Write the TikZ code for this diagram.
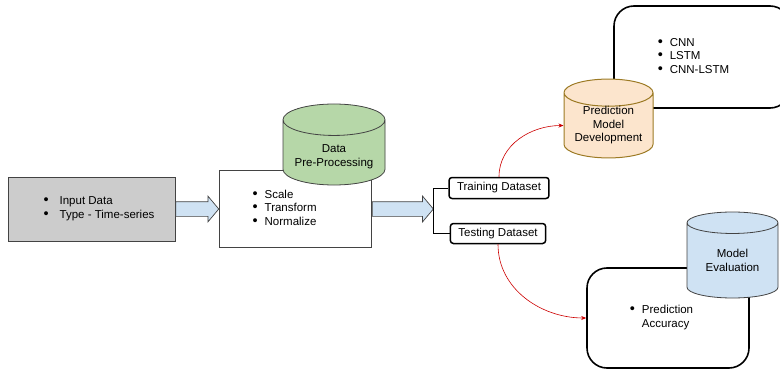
\documentclass[tikz,border=0pt]{standalone}
\usepackage{fontspec}
\setmainfont{Liberation Sans}
\usetikzlibrary{positioning,shapes.geometric,shapes.arrows,arrows.meta}
\definecolor{inpgray}{HTML}{CCCCCC}
\definecolor{edgegray}{HTML}{434343}
\definecolor{flowblue}{HTML}{CFE2F3}
\definecolor{prepgreen}{HTML}{B6D7A8}
\definecolor{preplight}{HTML}{C9E2BD}
\definecolor{devorange}{HTML}{FCE5CD}
\definecolor{devgold}{HTML}{9C7A24}
\definecolor{linkred}{HTML}{CC0000}

\newcommand{\bdot}{{\fontsize{14.5}{13.5}\selectfont\textbullet}}
\newcommand{\blist}[3][7pt]{\begin{tabular}{@{}c@{\hspace{#1}}l@{\hspace{#2}}}#3\end{tabular}}

\begin{document}
\begin{tikzpicture}[x=1pt,y=-1pt,font=\fontsize{11.5}{13.5}\selectfont,
  flatbox/.style={draw=edgegray,line width=0.8pt,inner sep=0pt},
  roundbox/.style={draw=black,line width=1.6pt,rounded corners=20pt,fill=white,inner sep=0pt},
  setbox/.style={draw=black,line width=1.5pt,rounded corners=3pt,fill=white,minimum height=21pt,inner xsep=8pt,inner ysep=0pt},
  store/.style={cylinder,shape border rotate=90,aspect=0.4,draw=edgegray,line width=0.8pt,align=center,inner sep=0pt,anchor=shape center},
  flowarrow/.style={single arrow,draw=edgegray,fill=flowblue,line width=0.7pt,inner sep=7pt,
    single arrow head extend=5.5pt,single arrow tip angle=100},
  link/.style={draw=linkred,line width=0.6pt,-{Stealth[length=5pt,width=4pt]}}]
\useasboundingbox (0,0) rectangle (780,369);

\node[flatbox,fill=inpgray,minimum width=167pt,minimum height=64pt] (input) at (91.5,209)
  {\blist[11pt]{-15pt}{\bdot & Input Data\\ \bdot & Type - Time-series}};
\node[flowarrow,minimum height=43pt,right=0pt of input] (arrowa) {};
\node[flatbox,fill=white,minimum width=152pt,minimum height=77pt,right=0pt of arrowa] (prep)
  {\blist{22pt}{\bdot & Scale\\ \bdot & Transform\\ \bdot & Normalize}};
\node[store,fill=prepgreen,cylinder uses custom fill,cylinder body fill=prepgreen,cylinder end fill=preplight,
  minimum width=102pt,minimum height=81pt] (prepdb) at (334,144.5)
  {\raisebox{-4pt}[\height][\depth]{\begin{tabular}{@{}c@{}}Data\\Pre-Processing\end{tabular}}};
\node[flowarrow,minimum height=61pt,right=0pt of prep] (arrowb) {};
\coordinate (split) at (arrowb.east);

\node[setbox] (train) at (499,188) {Training Dataset};
\node[setbox,minimum height=20pt] (test) at (498,233.5) {Testing Dataset};
\draw[line width=0.8pt] (train.west) -| (split) |- (test.west);

\node[roundbox,minimum width=176pt,minimum height=102pt] (models) at (702,57)
  {\blist{17pt}{\bdot & CNN\\ \bdot & LSTM\\ \bdot & CNN-LSTM}};
\node[store,draw=devgold,line width=1pt,fill=devorange,minimum width=89pt,minimum height=75pt] (devdb)
  at (608.5,118.5) {Prediction\\Model\\Development};

\node[roundbox,minimum width=162pt,minimum height=100pt] (accuracy) at (668,318)
  {\blist{13pt}{\bdot & Prediction\\ & Accuracy}};
\node[store,fill=flowblue,minimum width=91pt,minimum height=86pt] (evaldb) at (732.5,255) {Model\\Evaluation};

\draw[link] (train.north) to[out=90,in=180] (devdb.west);
\draw[link] (test.south) to[out=-90,in=180] (accuracy.west);
\end{tikzpicture}
\end{document}
